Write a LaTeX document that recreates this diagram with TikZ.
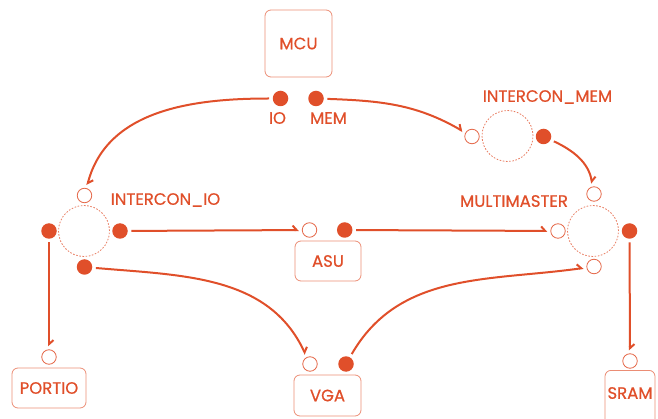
\documentclass[tikz,border=0pt]{standalone}
\usepackage{fontspec}
\setmainfont{Poppins}[FakeBold=0.6]
\usetikzlibrary{arrows.meta}
\definecolor{acc}{HTML}{E04F2A}
\begin{document}
\begin{tikzpicture}[x=1pt,y=-1pt,
  lbl/.style={text=acc, font=\fontsize{16.5}{16.5}\selectfont, inner sep=0pt},
  pfill/.style={circle, fill=acc, minimum size=15.5pt, inner sep=0pt},
  popen/.style={circle, draw=acc!85, line width=0.8pt, fill=white, minimum size=14.5pt, inner sep=0pt},
  hub/.style={circle, draw=acc!75, dash pattern=on 1.6pt off 1.6pt, line width=0.8pt, minimum size=51pt, inner sep=0pt},
  box/.style={draw=acc!65, rounded corners=6pt, line width=0.8pt, text=acc, font=\fontsize{16.5}{16.5}\selectfont, inner sep=0pt},
  conn/.style={draw=acc, line width=2pt, -{Straight Barb[harpoon, length=4pt, width=9pt]}, shorten >=3pt, shorten <=3.5pt},
]
\useasboundingbox (0,0) rectangle (658,419);

% boxes
\node[box, minimum width=67pt, minimum height=67pt] (mcu) at (298.5,43.5) {MCU};
\node[box, minimum width=66pt, minimum height=40pt] (asu) at (328,261) {ASU};
\node[box, minimum width=74pt, minimum height=40pt] (portio) at (49,388) {PORTIO};
\node[box, minimum width=67pt, minimum height=41pt] (vga) at (327.5,395.5) {VGA};
\node[box, minimum width=50pt, minimum height=58pt, anchor=north] (sram) at (630,370) {};
\node[lbl] (sramlbl) at (630,393) {SRAM};

% hubs
\node[hub] (imhub) at (507.5,136) {};
\node[hub] (iohub) at (84,231) {};
\node[hub] (mmhub) at (593,231) {};

% ports
\node[pfill] (mcuio) at (280.5,98.5) {};
\node[pfill] (mcumem) at (316,98.5) {};
\node[popen] (imin) at (472,136.5) {};
\node[pfill] (imout) at (543.5,136.5) {};
\node[popen] (iotop) at (84.5,195.5) {};
\node[pfill] (ioleft) at (49,231) {};
\node[pfill] (ioright) at (120,231) {};
\node[pfill] (iobot) at (84.5,267) {};
\node[popen] (asuin) at (309.5,230) {};
\node[pfill] (asuout) at (344.7,230) {};
\node[popen] (mmtop) at (594,194) {};
\node[popen] (mmleft) at (558,231) {};
\node[pfill] (mmright) at (629.5,231) {};
\node[popen] (mmbot) at (594,266.5) {};
\node[popen] (portioin) at (49,357) {};
\node[popen] (vgain) at (310,364) {};
\node[pfill] (vgaout) at (346,364) {};
\node[popen] (sramin) at (630,361) {};

% labels
\node[lbl] (lio) at (277.5,118) {IO};
\node[lbl] (lmem) at (328.5,118) {MEM};
\node[lbl] (lim) at (547.5,97) {INTERCON\_MEM};
\node[lbl] (lio2) at (165.5,200) {INTERCON\_IO};
\node[lbl] (lmm) at (514,201) {MULTIMASTER};

% connectors
\draw[conn] (mcuio) to[out=180, in=75] (iotop);
\draw[conn] (mcumem) to[out=-2, in=150] (imin);
\draw[conn] (imout) to[out=-25, in=100] (mmtop);
\draw[conn] (ioright) -- (asuin);
\draw[conn] (asuout) -- (mmleft);
\draw[conn] (iobot) to[out=-5, in=115] (vgain);
\draw[conn] (vgaout) to[out=60, in=188] (mmbot);
\draw[conn] (ioleft) -- (portioin);
\draw[conn] (mmright) -- (sramin);
\end{tikzpicture}
\end{document}
